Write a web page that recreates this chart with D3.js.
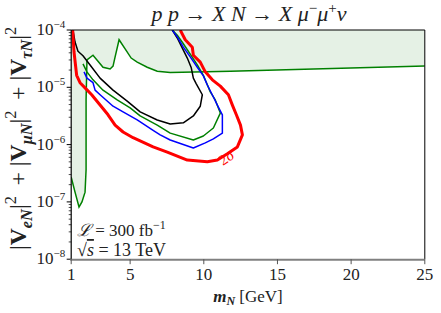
<!DOCTYPE html>
<html>
<head>
<meta charset="utf-8">
<script src="https://cdn.jsdelivr.net/npm/d3@7"></script>
<style>
  body{margin:0;background:#fff;}
  svg text{font-family:"Liberation Serif","Times New Roman",Times,serif !important;}
</style>
</head>
<body>
<svg id="chart" width="441" height="313"></svg>
<script>
// [m_N (GeV), log10 |V|^2]
const red2sigma = [[1.10,-4.00],[1.19,-4.38],[1.37,-4.79],[1.60,-4.92],[1.94,-5.01],[2.39,-5.13],[2.96,-5.31],[3.50,-5.48],[3.98,-5.66],[4.52,-5.78],[5.20,-5.88],[6.56,-6.04],[7.52,-6.13],[8.88,-6.27],[10.24,-6.30],[10.92,-6.27],[11.60,-6.16],[12.28,-6.04],[12.62,-5.83],[12.49,-5.66],[12.21,-5.48],[11.94,-5.31],[11.67,-5.13],[11.12,-4.98],[10.58,-4.87],[10.10,-4.73],[9.76,-4.56],[9.29,-4.44],[9.22,-4.30],[8.74,-4.17],[8.40,-4.00]];
const blueCurve = [[1.87,-4.73],[2.07,-4.84],[2.48,-4.92],[2.62,-5.05],[2.96,-5.13],[3.44,-5.24],[3.84,-5.33],[4.52,-5.43],[5.48,-5.57],[6.56,-5.75],[7.04,-5.83],[7.72,-5.92],[9.29,-6.06],[10.10,-5.97],[10.65,-5.90],[11.26,-5.80],[11.26,-5.48],[10.92,-5.31],[10.65,-5.17],[10.24,-4.96],[9.97,-4.80],[9.56,-4.65],[9.08,-4.47],[8.61,-4.30],[8.20,-4.12],[7.86,-4.00]];
const greenCurve = [[1.80,-4.59],[2.07,-4.73],[2.48,-4.87],[3.16,-5.05],[4.12,-5.22],[5.00,-5.36],[5.68,-5.50],[6.84,-5.66],[7.72,-5.80],[9.29,-5.92],[9.97,-5.85],[10.65,-5.71],[11.12,-5.45],[10.78,-5.22],[10.44,-5.08],[9.97,-4.79],[9.56,-4.61],[9.08,-4.42],[8.61,-4.24],[8.20,-4.09],[7.86,-4.00]];
const blackCurve = [[1.12,-4.00],[1.26,-4.21],[1.46,-4.37],[1.80,-4.45],[2.28,-4.61],[2.96,-4.84],[3.84,-5.05],[4.80,-5.24],[5.68,-5.43],[6.84,-5.57],[7.72,-5.64],[8.61,-5.62],[9.29,-5.50],[9.76,-5.33],[9.90,-5.13],[9.49,-4.94],[9.29,-4.84],[9.15,-4.66],[8.88,-4.49],[8.61,-4.35],[8.20,-4.14],[7.86,-4.00]];
// excluded region boundary (shaded above)
const excludedEdge = [[1.00,-6.57],[1.26,-6.83],[1.53,-7.09],[1.73,-7.00],[1.94,-6.83],[2.01,-6.44],[2.01,-5.22],[2.07,-4.52],[2.48,-4.44],[3.16,-4.65],[3.64,-4.68],[3.84,-4.63],[3.98,-4.47],[4.25,-4.17],[4.66,-4.33],[5.07,-4.49],[5.48,-4.56],[6.16,-4.65],[6.84,-4.72],[7.72,-4.74],[11.80,-4.72],[25.00,-4.63]];

const xTicks = [1,5,10,15,20,25];
const yTickExps = [-8,-7,-6,-5,-4];

const svg = d3.select('#chart');
const margin = {left:71.2,right:424.8,top:30,bottom:259.2};
const x = d3.scaleLinear().domain([1,25]).range([margin.left,margin.right]);
const y = d3.scaleLog().domain([1e-8,1e-4]).range([margin.bottom,margin.top]);

svg.append('clipPath').attr('id','clip').append('rect')
  .attr('x',margin.left).attr('y',margin.top)
  .attr('width',margin.right-margin.left).attr('height',margin.bottom-margin.top);

const plot = svg.append('g').attr('clip-path','url(#clip)');
const line = d3.line().x(d=>x(d[0])).y(d=>y(Math.pow(10,d[1])));

// shaded exclusion region
const shade = [[1,-4]].concat(excludedEdge,[[25,-4]]);
plot.append('path').attr('d',line(shade)+'Z').attr('fill','#e5f1e5').attr('stroke','none');
plot.append('path').attr('d',line(excludedEdge)).attr('fill','none').attr('stroke','#008000').attr('stroke-width',1.5);

const curves = [
  {data:blackCurve,color:'#000000',w:1.5},
  {data:greenCurve,color:'#008000',w:1.5},
  {data:blueCurve,color:'#0000ff',w:1.5},
  {data:red2sigma,color:'#ff0000',w:3}
];
curves.forEach(c=>{
  plot.append('path').attr('d',line(c.data)).attr('fill','none')
    .attr('stroke',c.color).attr('stroke-width',c.w).attr('stroke-linejoin','round');
});

// 2 sigma label
svg.append('text').attr('transform','translate(223,166) rotate(-35)')
  .attr('fill','#ff0000').style('font-size','15px')
  .html('2<tspan font-style="italic">σ</tspan>');

// frame
svg.append('line').attr('x1',margin.left).attr('x2',margin.right).attr('y1',margin.top).attr('y2',margin.top).attr('stroke','#000').attr('stroke-width',1);
svg.append('line').attr('x1',margin.right).attr('x2',margin.right).attr('y1',margin.top).attr('y2',margin.bottom).attr('stroke','#000').attr('stroke-width',1);

// y axis
const yMinor = [];
for(let e=-8;e<-4;e++)for(let k=2;k<10;k++)yMinor.push(k*Math.pow(10,e));
const ya = svg.append('g');
ya.append('line').attr('x1',margin.left).attr('x2',margin.left).attr('y1',margin.top).attr('y2',margin.bottom).attr('stroke','#000').attr('stroke-width',1.2);
ya.selectAll('.mn').data(yMinor).enter().append('line')
  .attr('x1',margin.left-2.5).attr('x2',margin.left).attr('y1',d=>y(d)).attr('y2',d=>y(d))
  .attr('stroke','#000').attr('stroke-width',0.7);
ya.selectAll('.mj').data(yTickExps).enter().append('line')
  .attr('x1',margin.left-4.5).attr('x2',margin.left).attr('y1',d=>y(Math.pow(10,d))).attr('y2',d=>y(Math.pow(10,d)))
  .attr('stroke','#000').attr('stroke-width',1);
ya.selectAll('.lb').data(yTickExps).enter().append('text')
  .attr('x',margin.left-6).attr('y',d=>y(Math.pow(10,d))+5)
  .attr('text-anchor','end').attr('fill','#222').style('font-size','17px')
  .html(d=>'10<tspan dy="-7" font-size="11px">\u2212'+(-d)+'</tspan>');

// x axis
const xa = svg.append('g');
xa.append('line').attr('x1',margin.left-1).attr('x2',margin.right).attr('y1',margin.bottom+0.5).attr('y2',margin.bottom+0.5).attr('stroke','#808080').attr('stroke-width',2);
xa.selectAll('.tk').data(xTicks).enter().append('line')
  .attr('x1',d=>x(d)).attr('x2',d=>x(d)).attr('y1',margin.bottom).attr('y2',margin.bottom+5)
  .attr('stroke','#555').attr('stroke-width',1);
xa.selectAll('.lb').data(xTicks).enter().append('text')
  .attr('x',d=>x(d)).attr('y',margin.bottom+21).attr('text-anchor','middle')
  .attr('fill','#222').style('font-size','17px').text(d=>d);

// axis labels
svg.append('text').attr('x',248).attr('y',302).attr('text-anchor','middle').style('font-size','17px').attr('fill','#222')
  .html('<tspan font-weight="bold" font-style="italic">m</tspan><tspan font-weight="bold" font-style="italic" font-size="12px" dy="3">N</tspan><tspan dy="-3"> [GeV]</tspan>');

const yl = svg.append('text').style('font-size','16px').attr('fill','#222');
const parts = [['e','N'],['μ','N'],['τ','N']];
parts.forEach((p,i)=>{
  if(i>0)yl.append('tspan').text(' + ');
  yl.append('tspan').text('|');
  yl.append('tspan').attr('font-weight','bold').text('V');
  yl.append('tspan').attr('font-weight','bold').attr('font-style','italic').attr('font-size','11px').attr('dy',4).text(p[0]+p[1]);
  yl.append('tspan').attr('dy',-4).text('|');
  yl.append('tspan').attr('font-size','11px').attr('dy',-7).text('2');
  yl.append('tspan').attr('dy',7).text('\u2009');
});
// fit the rotated label between y=22 and y=250, centred at x=18
const yb = yl.node().getBBox();
const ys = 228/yb.width;
yl.attr('transform','translate(18,136) rotate(-90) scale('+ys+') translate('+(-yb.x-yb.width/2)+','+(-yb.y-yb.height/2)+')');

// title
svg.append('text').attr('x',249).attr('y',21).attr('text-anchor','middle').style('font-size','22px').attr('fill','#222')
  .html('<tspan font-style="italic">p p</tspan> → <tspan font-style="italic">X N</tspan> → <tspan font-style="italic">X μ</tspan><tspan font-size="15px" dy="-8">−</tspan><tspan font-style="italic" dy="8">μ</tspan><tspan font-size="15px" dy="-8">+</tspan><tspan font-style="italic" dy="8">ν</tspan>');

// annotation
svg.append('text').attr('x',77).attr('y',236).style('font-size','17px').attr('fill','#222')
  .html('<tspan font-style="italic">ℒ</tspan> = 300 fb<tspan font-size="12px" dy="-7">−1</tspan>');
svg.append('text').attr('x',77).attr('y',256).style('font-size','18px').attr('fill','#222')
  .html('√<tspan font-style="italic" text-decoration="overline">s</tspan> = 13 TeV');
</script>
</body>
</html>
